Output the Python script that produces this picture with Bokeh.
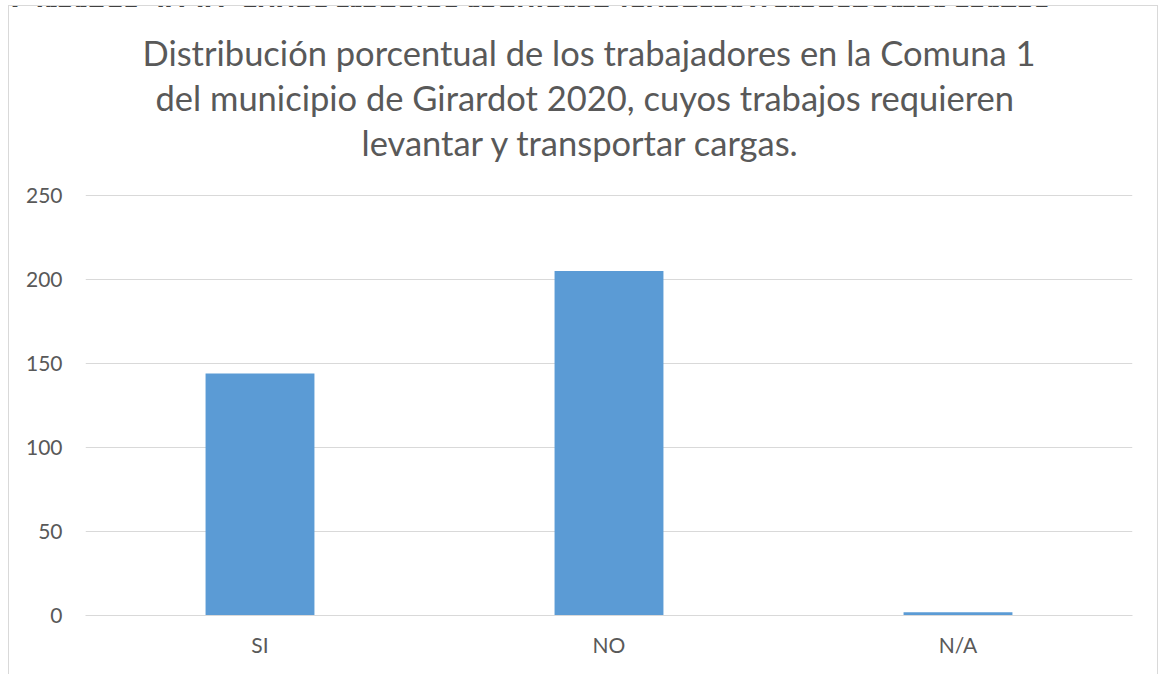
from bokeh.plotting import figure
from bokeh.models import FactorRange, Title, ColumnDataSource, FixedTicker, Div
from bokeh.layouts import column
from bokeh.embed import file_html
from bokeh.resources import INLINE

# data
categories = ["SI", "NO", "N/A"]
values = [144, 205, 2]
y_ticks = [0, 50, 100, 150, 200, 250]
title_lines = [
    "Distribución porcentual de los trabajadores en la Comuna 1",
    "del municipio de Girardot 2020, cuyos trabajos requieren",
    "levantar y transportar cargas.",
]
caption_text = "Girardot 2020, cuyos trabajos requieren levantar y transportar cargas"

FONT = "Lato"
GRAY = "#595959"

src = ColumnDataSource(dict(cat=categories, val=values))

p = figure(
    x_range=FactorRange(factors=categories),
    y_range=(0, 269.05),
    width=1150, height=669,
    output_backend="svg", toolbar_location=None, title=None,
    min_border_left=76, min_border_right=27, min_border_top=157, min_border_bottom=60,
)
p.styles = {"margin-left": "8px", "margin-top": "-10px",
            "border-left": "1px solid #d9d9d9",
            "border-right": "1px solid #d9d9d9", "border-top": "1px solid #d9d9d9"}
p.outline_line_color = None
p.background_fill_color = "white"
p.border_fill_color = "white"

p.vbar(x="cat", top="val", width=0.312, source=src, fill_color="#5b9bd5", line_color=None)

p.xgrid.grid_line_color = None
p.ygrid.grid_line_color = "#d9d9d9"
p.ygrid.grid_line_width = 1

p.yaxis.ticker = FixedTicker(ticks=y_ticks)
p.yaxis.axis_line_color = None
p.yaxis.major_tick_line_color = None
p.yaxis.minor_tick_line_color = None
p.yaxis.major_tick_out = 0
p.yaxis.minor_tick_out = 0
p.yaxis.major_label_standoff = 23
p.yaxis.major_label_text_font = FONT
p.yaxis.major_label_text_font_size = "21px"
p.yaxis.major_label_text_color = GRAY

p.xaxis.axis_line_color = "#d9d9d9"
p.xaxis.major_tick_line_color = None
p.xaxis.minor_tick_line_color = None
p.xaxis.major_tick_out = 0
p.xaxis.minor_tick_out = 0
p.xaxis.major_label_standoff = 16
p.xaxis.major_label_text_font = FONT
p.xaxis.major_label_text_font_size = "21px"
p.xaxis.major_label_text_color = GRAY

# title lines, stacked above the plot (last added is outermost)
offsets = [57, 70, 276]
for txt, off in reversed(list(zip(title_lines, offsets))):
    p.add_layout(Title(text=txt, align="left", offset=off, text_font=FONT,
                       text_font_size="34.5px", text_font_style="normal",
                       text_color=GRAY, standoff=2), "above")

caption = Div(
    text=('<div style="font-family: Lato; font-weight: bold; font-size: 34px; '
          'line-height: 34px; white-space: nowrap; position: relative; top: -13px; '
          'left: 6px; color: black;">' + caption_text + '</div>'),
    width=1160, height=5,
    styles={"overflow": "hidden"},
)

layout = column(caption, p, spacing=0)
open("out.html", "w").write(file_html(layout, INLINE))
